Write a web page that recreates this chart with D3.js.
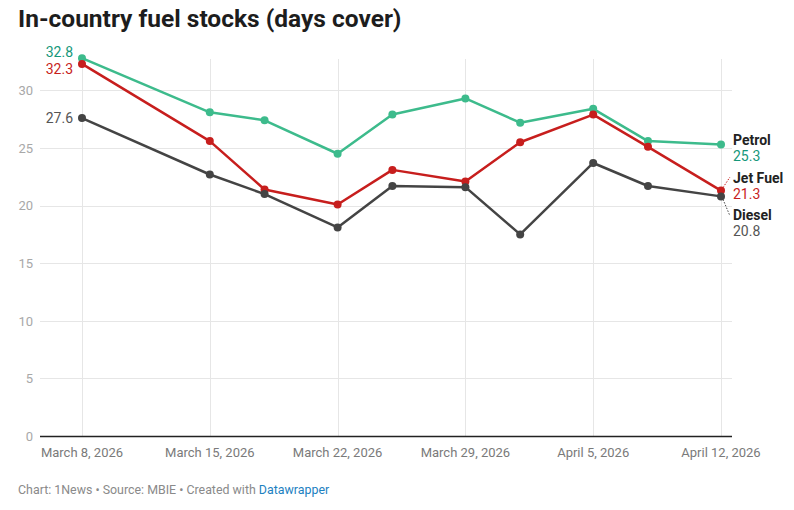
<!DOCTYPE html>
<html><head><meta charset="utf-8">
<script src="https://cdn.jsdelivr.net/npm/d3@7"></script>
<style>
body{margin:0;background:#fff;font-family:Roboto,"Noto Sans",sans-serif;}
svg{display:block;}
</style></head>
<body>
<svg id="c" width="794" height="510"></svg>
<script>
const dates = ["2026-03-08","2026-03-15","2026-03-18","2026-03-22","2026-03-25","2026-03-29","2026-04-01","2026-04-05","2026-04-08","2026-04-12"];
const petrol = [32.8,28.1,27.4,24.5,27.9,29.3,27.2,28.4,25.6,25.3];
const jetFuel = [32.3,25.6,21.4,20.1,23.1,22.1,25.5,27.9,25.1,21.3];
const diesel = [27.6,22.7,21.0,18.1,21.7,21.6,17.5,23.7,21.7,20.8];
const tickDates = ["2026-03-08","2026-03-15","2026-03-22","2026-03-29","2026-04-05","2026-04-12"];
const yTicks = [0,5,10,15,20,25,30];
const seriesNames = ["Petrol","Jet Fuel","Diesel"];

const parse = d3.utcParse("%Y-%m-%d");
const fmt = d3.utcFormat("%B %-d, %Y");
const svg = d3.select("#c");

const x = d3.scaleUtc().domain([parse(dates[0]), parse(dates[dates.length-1])]).range([82,721]);
const y = d3.scaleLinear().domain([0,30]).range([436,90.4]);

svg.append("text").attr("x",18).attr("y",27).attr("font-size",24.5).attr("font-weight",700)
  .attr("fill","#1d1d1d").text("In-country fuel stocks (days cover)");

// horizontal grid
const gY = svg.append("g");
gY.selectAll("line").data(yTicks.filter(d=>d>0)).join("line")
  .attr("x1",40).attr("x2",732).attr("y1",d=>Math.round(y(d))+0.5).attr("y2",d=>Math.round(y(d))+0.5)
  .attr("stroke","#e6e6e6").attr("stroke-width",1);
gY.selectAll("text").data(yTicks).join("text")
  .attr("x",33).attr("y",d=>y(d)+4.7).attr("text-anchor","end").attr("font-size",13)
  .attr("fill","#a8a8a8").text(d=>d);

// vertical grid
const gX = svg.append("g");
gX.selectAll("line").data(tickDates).join("line")
  .attr("x1",d=>Math.round(x(parse(d)))+0.5).attr("x2",d=>Math.round(x(parse(d)))+0.5)
  .attr("y1",59).attr("y2",436).attr("stroke","#e6e6e6").attr("stroke-width",1);
gX.selectAll("text").data(tickDates).join("text")
  .attr("x",d=>x(parse(d))).attr("y",456.5).attr("text-anchor","middle").attr("font-size",13)
  .attr("fill","#7a7a7a").text(d=>fmt(parse(d)));

svg.append("line").attr("x1",40).attr("x2",732).attr("y1",436.5).attr("y2",436.5)
  .attr("stroke","#222").attr("stroke-width",1.3);

const series = [
  {name:seriesNames[0], vals:petrol, line:"#3dbb8c", text:"#15977a"},
  {name:seriesNames[1], vals:jetFuel, line:"#c71e1d", text:"#c71e1d"},
  {name:seriesNames[2], vals:diesel, line:"#444444", text:"#555555"}
];
const line = d3.line().x((d,i)=>x(parse(dates[i]))).y(d=>y(d));
series.forEach(s=>{
  const g = svg.append("g");
  g.append("path").attr("d",line(s.vals)).attr("fill","none").attr("stroke",s.line)
    .attr("stroke-width",2.5).attr("stroke-linejoin","round");
  g.selectAll("circle").data(s.vals).join("circle")
    .attr("cx",(d,i)=>x(parse(dates[i]))).attr("cy",d=>y(d)).attr("r",4).attr("fill",s.line);
});

// start labels
series.forEach((s,k)=>{
  const v = s.vals[0];
  let ty = y(v)+5;
  if(k===0) ty = 56.5;
  if(k===1) ty = 74;
  svg.append("text").attr("x",73).attr("y",ty).attr("text-anchor","end").attr("font-size",14)
    .attr("fill",s.text).text(v.toFixed(1));
});

// end labels
const endPos = [145, 183, 220];
const xe = x(parse(dates[dates.length-1]));
series.forEach((s,k)=>{
  const v = s.vals[s.vals.length-1];
  svg.append("text").attr("x",733).attr("y",endPos[k]).attr("font-size",14).attr("font-weight",700)
    .attr("fill","#222").text(s.name);
  svg.append("text").attr("x",733).attr("y",endPos[k]+16).attr("font-size",14)
    .attr("fill",s.text).text(v.toFixed(1));
});
// connector dotted lines
svg.append("line").attr("x1",xe+2).attr("y1",y(jetFuel[jetFuel.length-1])-3).attr("x2",xe+9).attr("y2",177)
  .attr("stroke","#c71e1d").attr("stroke-width",1).attr("stroke-dasharray","1.5,1.5");
svg.append("line").attr("x1",xe+2).attr("y1",y(diesel[diesel.length-1])+3).attr("x2",xe+9).attr("y2",216)
  .attr("stroke","#444").attr("stroke-width",1).attr("stroke-dasharray","1.5,1.5");

// footer
const foot = svg.append("text").attr("x",18).attr("y",494).attr("font-size",12.4).attr("fill","#8a8a8a");
foot.append("tspan").text("Chart: 1News • Source: MBIE • Created with ");
foot.append("tspan").attr("fill","#1d81c1").text("Datawrapper");
</script>
</body></html>
